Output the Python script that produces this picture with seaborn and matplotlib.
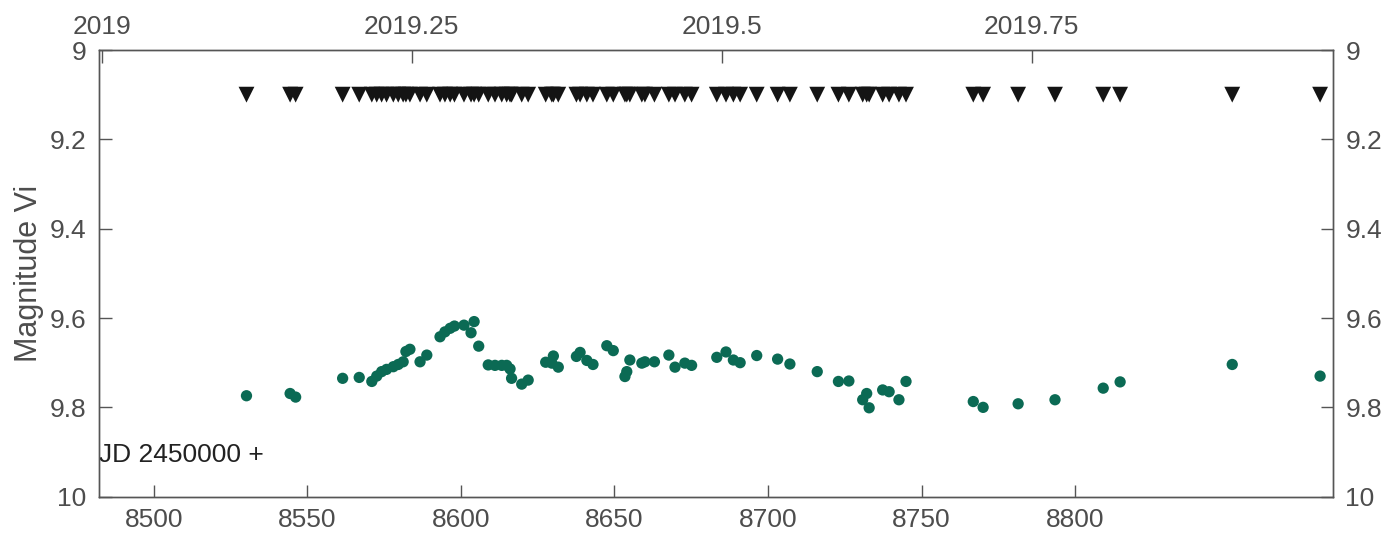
import matplotlib
matplotlib.use("Agg")
import matplotlib.pyplot as plt
import seaborn as sns
import pandas as pd

# Observation epochs (JD - 2450000) and V_i magnitudes
jd = [8530.2, 8544.4, 8546.2, 8561.5, 8566.9, 8571.0, 8572.6, 8574.2, 8575.8,
      8578.0, 8579.6, 8581.2, 8582.1, 8583.4, 8586.7, 8588.9, 8593.2, 8594.8,
      8596.5, 8597.9, 8601.0, 8603.3, 8604.3, 8605.8, 8608.9, 8611.1, 8613.3,
      8614.9, 8616.0, 8616.5, 8619.8, 8621.9, 8627.6, 8629.6, 8630.1, 8631.7,
      8637.6, 8638.8, 8641.0, 8643.0, 8647.5, 8649.6, 8653.4, 8654.0, 8655.0,
      8658.9, 8659.9, 8663.0, 8667.7, 8669.7, 8672.9, 8675.1, 8683.3, 8686.3,
      8688.7, 8690.9, 8696.3, 8703.1, 8707.1, 8716.0, 8722.9, 8726.3, 8730.8,
      8732.1, 8732.9, 8737.3, 8739.4, 8742.6, 8744.9, 8766.8, 8770.0, 8781.4,
      8793.4, 8809.1, 8814.6, 8851.1, 8879.7]
mag_vi = [9.774, 9.769, 9.777, 9.735, 9.733, 9.742, 9.730, 9.720, 9.715,
          9.709, 9.704, 9.698, 9.675, 9.670, 9.698, 9.683, 9.642, 9.631,
          9.623, 9.618, 9.616, 9.633, 9.608, 9.663, 9.705, 9.706, 9.706,
          9.706, 9.714, 9.735, 9.748, 9.739, 9.699, 9.701, 9.685, 9.710,
          9.686, 9.677, 9.695, 9.704, 9.662, 9.673, 9.731, 9.720, 9.694,
          9.701, 9.698, 9.698, 9.683, 9.710, 9.701, 9.706, 9.688, 9.676,
          9.694, 9.700, 9.684, 9.692, 9.703, 9.720, 9.742, 9.741, 9.783,
          9.769, 9.801, 9.761, 9.765, 9.783, 9.742, 9.787, 9.800, 9.792,
          9.783, 9.757, 9.743, 9.704, 9.730]
# Epoch markers drawn along the top of the panel
marker_level = 9.1

x_ticks = [8500, 8550, 8600, 8650, 8700, 8750, 8800]
y_ticks = [9, 9.2, 9.4, 9.6, 9.8, 10]
y_labels = ["9", "9.2", "9.4", "9.6", "9.8", "10"]
year_ticks = [2019, 2019.25, 2019.5, 2019.75]
year_labels = ["2019", "2019.25", "2019.5", "2019.75"]

df = pd.DataFrame({"jd": jd, "mag": mag_vi})
df["marker"] = marker_level

sns.set_theme(style="white")
plt.rcParams["font.family"] = ["Liberation Sans", "DejaVu Sans"]

axis_col = "#555555"
text_col = "#4d4d4d"

fig = plt.figure(figsize=(13.91, 5.40), dpi=100)
ax = fig.add_axes([0.0712, 0.0802, 0.8871, 0.8272])

sns.scatterplot(data=df, x="jd", y="marker", marker="v", s=130, color="#141414",
                edgecolor="none", linewidth=0, ax=ax, zorder=3)
sns.scatterplot(data=df, x="jd", y="mag", marker="o", s=66, color="#0b6a54",
                edgecolor="none", linewidth=0, ax=ax, zorder=3)

ax.set_xlim(8482.2, 8883.9)
ax.set_ylim(10, 9)
ax.set_xticks(x_ticks)
ax.set_xticklabels([str(t) for t in x_ticks])
ax.set_yticks(y_ticks)
ax.set_yticklabels(y_labels)
ax.set_xlabel("")
ax.set_ylabel("Magnitude Vi", fontsize=22, color=text_col, labelpad=4)

ax.tick_params(axis="both", direction="in", length=9, width=1.0, color=axis_col,
               labelsize=19, labelcolor=text_col)
ax.tick_params(axis="x", pad=8)
ax.tick_params(axis="y", left=True, right=True, labelleft=True, labelright=True, pad=9)
for s in ax.spines.values():
    s.set_color(axis_col)
    s.set_linewidth(1.0)

ax.text(0.0, 0.093, "JD 2450000 +", transform=ax.transAxes, ha="left", va="center",
        fontsize=19, color="#222222")

# Calendar-year scale along the top edge
top = ax.twiny()
top.set_xlim(2018.9978, 2019.9930)
top.set_xticks(year_ticks)
top.set_xticklabels(year_labels)
top.tick_params(axis="x", direction="in", length=9, width=1.0, color=axis_col,
                labelsize=19, labelcolor=text_col, pad=8)
for s in top.spines.values():
    s.set_color(axis_col)
    s.set_linewidth(1.0)

fig.savefig("out.png", dpi=100, facecolor="white")
